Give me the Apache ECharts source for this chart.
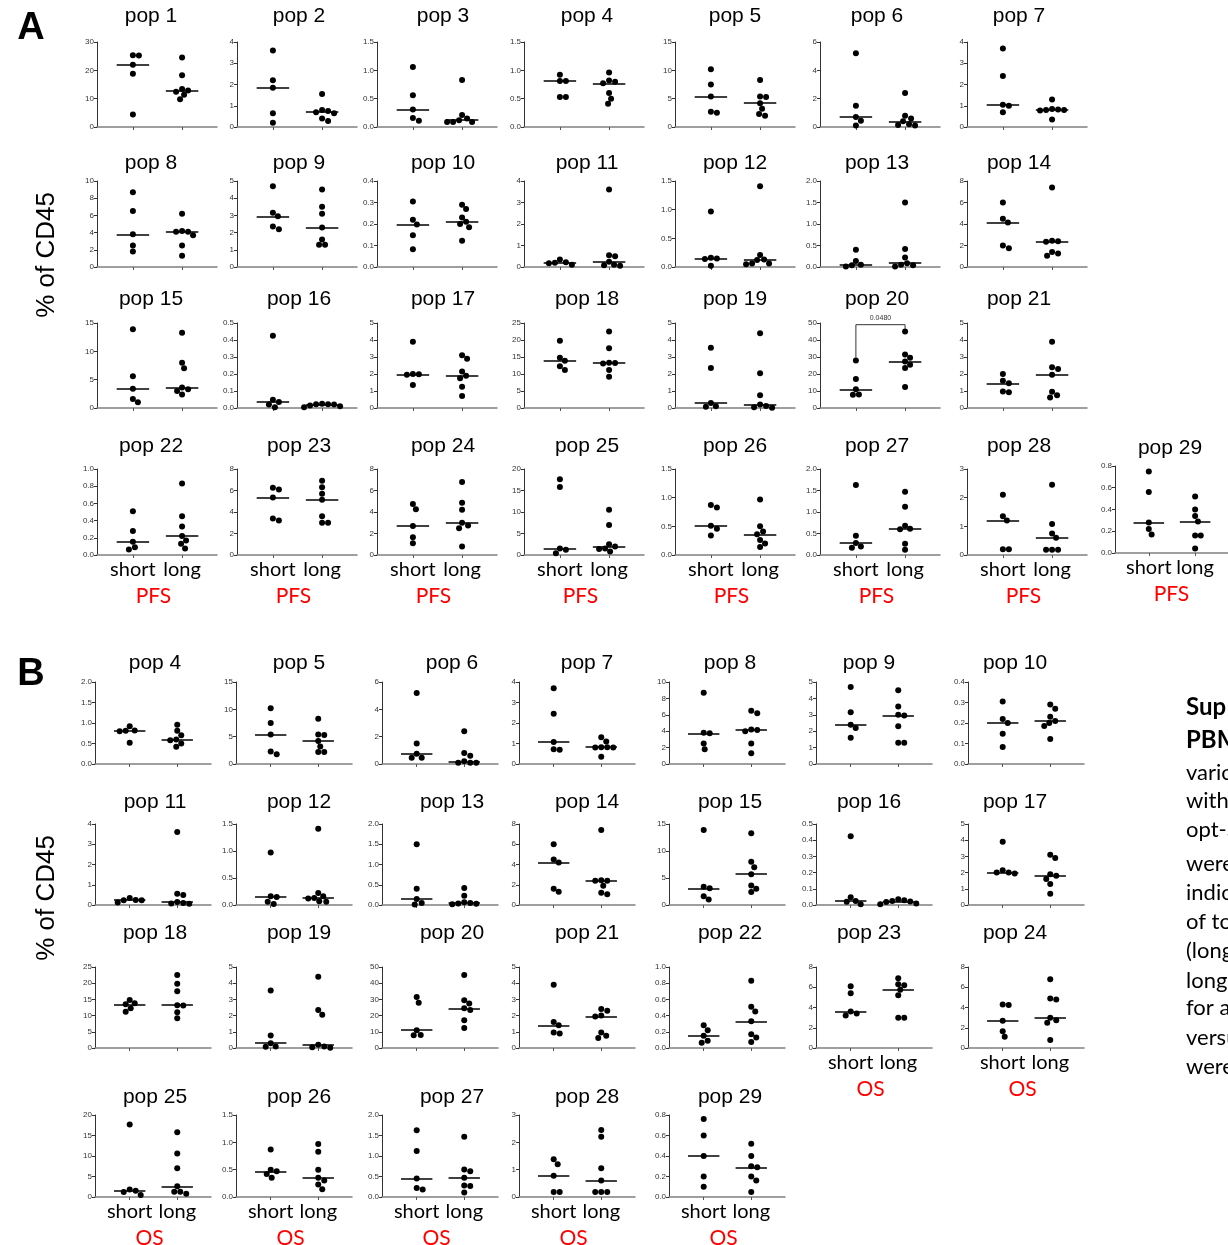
<!DOCTYPE html>
<html>
<head>
<meta charset="utf-8">
<script src="https://cdn.jsdelivr.net/npm/echarts@6/dist/echarts.min.js"></script>
<style>
  html, body { margin: 0; padding: 0; background: #fff; }
  #chart { width: 1228px; height: 1245px; }
</style>
</head>
<body>
<div id="chart"></div>
<script>
// % of CD45 per patient (short vs long survivors)
// A: PFS, pop 1 - pop 29
const pfsPops = ['pop 1','pop 2','pop 3','pop 4','pop 5','pop 6','pop 7','pop 8','pop 9','pop 10',
  'pop 11','pop 12','pop 13','pop 14','pop 15','pop 16','pop 17','pop 18','pop 19','pop 20',
  'pop 21','pop 22','pop 23','pop 24','pop 25','pop 26','pop 27','pop 28','pop 29']
const pfsMax  = [30, 4, 1.5, 1.5, 15, 6, 4, 10, 5, 0.4, 4, 1.5, 2, 8, 15, 0.5, 5, 25, 5, 50, 5, 1, 8, 8, 20, 1.5, 2, 3, 0.8]
const pfsStep = [10, 1, 0.5, 0.5, 5, 2, 1, 2, 1, 0.1, 1, 0.5, 0.5, 2, 5, 0.1, 1, 5, 1, 10, 1, 0.2, 2, 2, 5, 0.5, 0.5, 1, 0.2]
const pfsShort = [
  [25.3, 25.2, 22, 18.8, 4.4],
  [3.6, 2.2, 1.85, 0.65, 0.2],
  [1.06, 0.56, 0.31, 0.16, 0.11],
  [0.92, 0.81, 0.81, 0.53, 0.53],
  [10.2, 7.5, 5.4, 2.7, 2.5],
  [5.2, 1.5, 0.7, 0.45, 0.1],
  [3.7, 2.4, 1.05, 1.0, 0.7],
  [8.7, 6.5, 3.8, 2.5, 1.8],
  [4.7, 3.15, 2.95, 2.35, 2.2],
  [0.305, 0.22, 0.198, 0.148, 0.083],
  [0.35, 0.22, 0.2, 0.18, 0.1],
  [0.97, 0.16, 0.15, 0.14, 0.02],
  [0.4, 0.14, 0.05, 0.04, 0.01],
  [6.0, 4.5, 4.15, 2.0, 1.75],
  [13.9, 5.6, 3.4, 1.6, 1.0],
  [0.425, 0.048, 0.035, 0.02, 0.005],
  [3.9, 2.0, 1.98, 1.95, 1.35],
  [19.8, 14.8, 13.9, 12.3, 11.2],
  [3.55, 2.35, 0.3, 0.1, 0.08],
  [28, 17, 11, 8, 7.8],
  [2.0, 1.6, 1.45, 0.97, 0.93],
  [0.51, 0.28, 0.155, 0.09, 0.065],
  [6.25, 6.1, 5.35, 3.4, 3.2],
  [4.75, 4.25, 2.7, 1.65, 1.1],
  [17.6, 15.8, 1.5, 1.2, 0.4],
  [0.87, 0.83, 0.51, 0.46, 0.34],
  [1.63, 0.45, 0.28, 0.2, 0.17],
  [2.1, 1.35, 1.2, 0.2, 0.2],
  [0.75, 0.56, 0.28, 0.22, 0.17]
]
const pfsLong = [
  [24.5, 18.3, 13.4, 12.9, 12.4, 11.4, 9.8],
  [1.55, 0.8, 0.75, 0.7, 0.65, 0.4, 0.28],
  [0.83, 0.21, 0.15, 0.12, 0.09, 0.09, 0.09],
  [0.96, 0.82, 0.8, 0.77, 0.6, 0.5, 0.41],
  [8.3, 5.4, 5.3, 4.2, 3.2, 2.3, 2.0],
  [2.4, 0.8, 0.6, 0.4, 0.2, 0.15, 0.1],
  [1.3, 0.85, 0.82, 0.8, 0.8, 0.78, 0.35],
  [6.2, 4.2, 4.1, 4.1, 3.7, 2.5, 1.3],
  [4.5, 3.5, 3.1, 2.3, 1.6, 1.3, 1.3],
  [0.29, 0.27, 0.23, 0.21, 0.2, 0.185, 0.122],
  [3.6, 0.55, 0.5, 0.25, 0.1, 0.08, 0.06],
  [1.41, 0.21, 0.13, 0.12, 0.06, 0.06, 0.05],
  [1.5, 0.42, 0.22, 0.09, 0.05, 0.04, 0.01],
  [7.4, 2.45, 2.4, 2.35, 1.4, 1.25, 1.05],
  [13.3, 8.0, 7.0, 3.6, 3.3, 3.0, 2.4],
  [0.025, 0.022, 0.022, 0.02, 0.015, 0.01, 0.005],
  [3.1, 2.9, 2.15, 1.9, 1.75, 1.25, 0.7],
  [22.5, 17.6, 13.3, 13.2, 13.1, 11.2, 9.2],
  [4.4, 2.05, 0.75, 0.2, 0.12, 0.05, 0.02],
  [45, 31.5, 29.5, 27.3, 25.5, 23.5, 12.3],
  [3.9, 2.4, 2.3, 1.95, 0.95, 0.75, 0.62],
  [0.83, 0.45, 0.33, 0.22, 0.17, 0.13, 0.075],
  [6.9, 6.3, 5.7, 5.15, 3.6, 3.0, 3.0],
  [6.8, 4.85, 4.2, 3.0, 2.75, 2.5, 0.8],
  [10.5, 7.0, 2.5, 2.0, 1.5, 1.4, 0.8],
  [0.97, 0.5, 0.41, 0.36, 0.26, 0.2, 0.14],
  [1.47, 1.12, 0.68, 0.61, 0.6, 0.26, 0.12],
  [2.45, 1.08, 0.75, 0.6, 0.18, 0.18, 0.18],
  [0.52, 0.4, 0.34, 0.29, 0.16, 0.16, 0.04]
]
const pfsPvalue = '0.0480'   // pop 20, short vs long

// B: OS, pop 4 - pop 29
const osPops = ['pop 4','pop 5','pop 6','pop 7','pop 8','pop 9','pop 10','pop 11','pop 12','pop 13',
  'pop 14','pop 15','pop 16','pop 17','pop 18','pop 19','pop 20','pop 21','pop 22','pop 23',
  'pop 24','pop 25','pop 26','pop 27','pop 28','pop 29']
const osMax  = [2, 15, 6, 4, 10, 5, 0.4, 4, 1.5, 2, 8, 15, 0.5, 5, 25, 5, 50, 5, 1, 8, 8, 20, 1.5, 2, 3, 0.8]
const osStep = [0.5, 5, 2, 1, 2, 1, 0.1, 1, 0.5, 0.5, 2, 5, 0.1, 1, 5, 1, 10, 1, 0.2, 2, 2, 5, 0.5, 0.5, 1, 0.2]
const osShort = [
  [0.92, 0.82, 0.81, 0.8, 0.52],
  [10.2, 7.5, 5.4, 2.3, 1.8],
  [5.2, 1.5, 0.75, 0.45, 0.45],
  [3.7, 2.45, 1.07, 0.72, 0.7],
  [8.7, 3.8, 3.75, 2.5, 1.8],
  [4.7, 3.15, 2.4, 2.2, 1.6],
  [0.305, 0.22, 0.2, 0.148, 0.083],
  [0.35, 0.25, 0.24, 0.23, 0.12],
  [0.97, 0.16, 0.15, 0.06, 0.02],
  [1.5, 0.4, 0.15, 0.05, 0.01],
  [6.0, 4.5, 4.2, 1.6, 1.3],
  [13.9, 3.4, 3.1, 1.6, 1.0],
  [0.425, 0.048, 0.025, 0.02, 0.005],
  [3.9, 2.15, 2.0, 2.0, 1.95],
  [14.8, 13.8, 13.5, 12.3, 11.2],
  [3.55, 0.77, 0.3, 0.1, 0.08],
  [31.5, 28, 11, 8, 7.8],
  [3.9, 1.6, 1.4, 0.95, 0.9],
  [0.28, 0.22, 0.15, 0.09, 0.065],
  [6.1, 5.4, 3.6, 3.4, 3.2],
  [4.3, 4.25, 2.7, 1.65, 1.1],
  [17.7, 1.8, 1.5, 1.2, 0.5],
  [0.87, 0.5, 0.47, 0.42, 0.35],
  [1.63, 1.12, 0.45, 0.22, 0.18],
  [1.38, 1.2, 0.78, 0.18, 0.18],
  [0.76, 0.6, 0.4, 0.2, 0.1]
]
const osLong = [
  [0.96, 0.81, 0.7, 0.6, 0.58, 0.5, 0.42],
  [8.3, 5.4, 5.3, 4.2, 3.2, 2.2, 2.2],
  [2.4, 0.8, 0.6, 0.2, 0.1, 0.1, 0.1],
  [1.3, 1.1, 0.82, 0.82, 0.8, 0.8, 0.35],
  [6.5, 6.2, 4.2, 4.15, 4.0, 2.5, 1.3],
  [4.5, 3.5, 3.0, 2.95, 2.3, 1.3, 1.3],
  [0.29, 0.27, 0.23, 0.21, 0.2, 0.185, 0.122],
  [3.6, 0.55, 0.5, 0.15, 0.1, 0.08, 0.06],
  [1.41, 0.22, 0.16, 0.13, 0.12, 0.07, 0.06],
  [0.42, 0.23, 0.07, 0.05, 0.04, 0.03, 0.02],
  [7.4, 2.45, 2.4, 2.4, 1.9, 1.2, 1.05],
  [13.3, 8.0, 7.0, 5.7, 3.6, 3.0, 2.4],
  [0.035, 0.03, 0.025, 0.022, 0.018, 0.01, 0.005],
  [3.1, 2.9, 1.9, 1.8, 1.6, 1.3, 0.7],
  [22.5, 19.8, 17.5, 13.2, 13.1, 11.0, 9.2],
  [4.4, 2.35, 2.05, 0.2, 0.1, 0.05, 0.02],
  [45, 29.5, 27.5, 24.5, 23.5, 17.2, 12.3],
  [2.4, 2.3, 2.0, 1.95, 0.95, 0.75, 0.62],
  [0.83, 0.51, 0.45, 0.33, 0.17, 0.13, 0.075],
  [6.9, 6.3, 6.2, 5.75, 5.2, 3.0, 3.0],
  [6.8, 4.9, 4.8, 3.0, 2.75, 2.5, 0.8],
  [15.8, 10.6, 7.0, 2.6, 1.3, 1.3, 0.8],
  [0.97, 0.83, 0.5, 0.35, 0.3, 0.23, 0.14],
  [1.47, 0.67, 0.63, 0.47, 0.28, 0.27, 0.11],
  [2.45, 2.2, 1.05, 0.6, 0.18, 0.18, 0.18],
  [0.52, 0.4, 0.3, 0.29, 0.2, 0.16, 0.05]
]

const groupNames = ['short', 'long']
const legendText = ['Sup', 'PBM', 'vario', 'with', 'opt-S', 'were', 'indic', 'of to', '(long', 'long', 'for a', 'versu', 'were']

// layout (pixels)
const X_MIN = 0.27, X_MAX = 2.71
const aCols = [97, 237, 377, 524, 675, 820, 967, 1115]
const aTitleX = [151, 299, 443, 587, 735, 877, 1019, 1170]
const aRows = [
  { top: 42, bottom: 127, title: 16 },
  { top: 181, bottom: 267, title: 163 },
  { top: 323, bottom: 408, title: 299 },
  { top: 469, bottom: 555, title: 446 }
]
const bCols = [95, 236, 382, 519, 669, 816, 968]
const bTitleX = [155, 299, 452, 587, 730, 869, 1015]
const bRows = [
  { top: 682, bottom: 764, title: 663 },
  { top: 824, bottom: 905, title: 802 },
  { top: 967, bottom: 1048, title: 933 },
  { top: 1115, bottom: 1197, title: 1097 }
]

const grids = [], xAxes = [], yAxes = [], series = [], texts = []

function median(arr) {
  const s = arr.slice().sort((a, b) => a - b)
  const m = Math.floor(s.length / 2)
  return s.length % 2 ? s[m] : (s[m - 1] + s[m]) / 2
}

// simple beeswarm: push overlapping dots sideways
function swarm(vals, center, pxPerY, pxPerX) {
  const d = 5.8
  const placed = []
  vals.slice().sort((a, b) => b - a).forEach(v => {
    const y = v * pxPerY
    let off = 0
    for (let k = 0; k < 80; k++) {
      const c = (k % 2 ? 1 : -1) * Math.ceil(k / 2)
      if (placed.every(p => (p.x - c) ** 2 + (p.y - y) ** 2 >= d * d)) { off = c; break }
    }
    placed.push({ x: off, y: y, v: v })
  })
  return placed.map(p => [center + p.x / pxPerX, p.v])
}

function addText(x, y, text, font, fill, extra) {
  texts.push(Object.assign({
    type: 'text', x: x, y: y, silent: true,
    style: { text: text, font: font, fill: fill || '#000', align: 'center', verticalAlign: 'middle' }
  }, extra || {}))
}

function addPlot(opts) {
  const i = grids.length
  const h = opts.bottom - opts.top
  const pxPerX = opts.width / (X_MAX - X_MIN)
  const pxPerY = h / opts.max
  grids.push({ left: opts.left, top: opts.top, width: opts.width, height: h })

  xAxes.push({
    gridIndex: i, type: 'value', min: X_MIN, max: X_MAX,
    splitLine: { show: false },
    axisLine: { show: true, onZero: false, lineStyle: { color: '#808080', width: 1.5 } },
    axisTick: { show: true, customValues: [1, 2], length: 3, lineStyle: { color: '#555' } },
    axisLabel: opts.labels
      ? { show: true, customValues: [1, 2], formatter: v => groupNames[Math.round(v) - 1],
          fontSize: 20, fontFamily: 'Lato', color: '#000', margin: 5 }
      : { show: false }
  })
  const step = opts.step
  yAxes.push({
    gridIndex: i, type: 'value', min: 0, max: opts.max, interval: step,
    splitLine: { show: false },
    axisLine: { show: true, lineStyle: { color: '#333', width: 1 } },
    axisTick: { show: true, length: 3, lineStyle: { color: '#333' } },
    axisLabel: { fontSize: 8, color: '#333', margin: 3, fontFamily: 'Liberation Sans',
      formatter: v => step < 1 ? v.toFixed(1) : String(v) }
  })

  const ms = median(opts.short), ml = median(opts.long)
  series.push({
    type: 'scatter', xAxisIndex: i, yAxisIndex: i, clip: false, silent: true,
    symbolSize: 6, itemStyle: { color: '#000', opacity: 1 },
    data: swarm(opts.short, 1, pxPerY, pxPerX).concat(swarm(opts.long, 2, pxPerY, pxPerX)),
    markLine: {
      silent: true, symbol: 'none', animation: false,
      label: { show: false },
      lineStyle: { color: '#000', width: 1.5, type: 'solid', opacity: 1 },
      data: [
        [{ coord: [1 - 0.33, ms] }, { coord: [1 + 0.33, ms] }],
        [{ coord: [2 - 0.33, ml] }, { coord: [2 + 0.33, ml] }]
      ]
    }
  })

  addText(opts.titleX, opts.titleY, opts.name, '21px "Liberation Sans"')
  if (opts.labels) {
    addText(opts.left + opts.width * 0.47, opts.bottom + 41, opts.tag, '21px Lato', '#ff0000')
  }
  if (opts.pvalue) {
    const top = opts.max * 0.98
    series.push({
      type: 'line', xAxisIndex: i, yAxisIndex: i, clip: false, silent: true, symbol: 'none',
      lineStyle: { color: '#333', width: 1 },
      data: [[1, Math.max(...opts.short) + 1.5], [1, top], [2, top], [2, Math.max(...opts.long) + 1.5]]
    })
    addText(opts.left + (1.5 - X_MIN) * pxPerX, opts.top - 5, opts.pvalue, '7px "Liberation Sans"', '#333')
  }
}

// panel A
pfsPops.forEach((name, k) => {
  let r = Math.floor(k / 7), c = k % 7
  if (k === 28) { r = 3; c = 7 }
  const row = aRows[r]
  const shift = k === 28 ? -3 : 0
  addPlot({
    name: name, left: aCols[c], width: 120, top: row.top + shift, bottom: row.bottom + shift * 0.7,
    titleX: aTitleX[c], titleY: row.title + (k === 28 ? 2 : 0),
    max: pfsMax[k], step: pfsStep[k], short: pfsShort[k], long: pfsLong[k],
    labels: r === 3, tag: 'PFS', pvalue: name === 'pop 20' ? pfsPvalue : null
  })
})

// panel B
osPops.forEach((name, k) => {
  const r = Math.floor(k / 7), c = k % 7
  const row = bRows[r]
  addPlot({
    name: name, left: bCols[c], width: 116, top: row.top, bottom: row.bottom,
    titleX: bTitleX[c], titleY: row.title,
    max: osMax[k], step: osStep[k], short: osShort[k], long: osLong[k],
    labels: r === 3 || name === 'pop 23' || name === 'pop 24', tag: 'OS'
  })
})

// panel letters and shared y titles
addText(31, 29, 'A', 'bold 38px "Liberation Sans"')
addText(31, 675, 'B', 'bold 38px "Liberation Sans"')
addText(47, 255, '% of CD45', '26px "Liberation Sans"', '#000', { rotation: Math.PI / 2 })
addText(47, 898, '% of CD45', '26px "Liberation Sans"', '#000', { rotation: Math.PI / 2 })

// caption text cut off at the right edge
const legendY = [707, 740, 773, 801, 830, 864, 893, 922, 951, 981, 1008, 1038, 1067]
legendText.forEach((t, j) => {
  texts.push({
    type: 'text', x: 1186, y: legendY[j], silent: true,
    style: { text: t, font: (j < 2 ? 'bold 24px' : '22px') + ' Lato', fill: '#000', align: 'left', verticalAlign: 'middle' }
  })
})

const chart = echarts.init(document.getElementById('chart'), null, { renderer: 'canvas' })
chart.setOption({
  animation: false,
  backgroundColor: '#fff',
  grid: grids,
  xAxis: xAxes,
  yAxis: yAxes,
  series: series,
  graphic: { elements: texts }
})
</script>
</body>
</html>
